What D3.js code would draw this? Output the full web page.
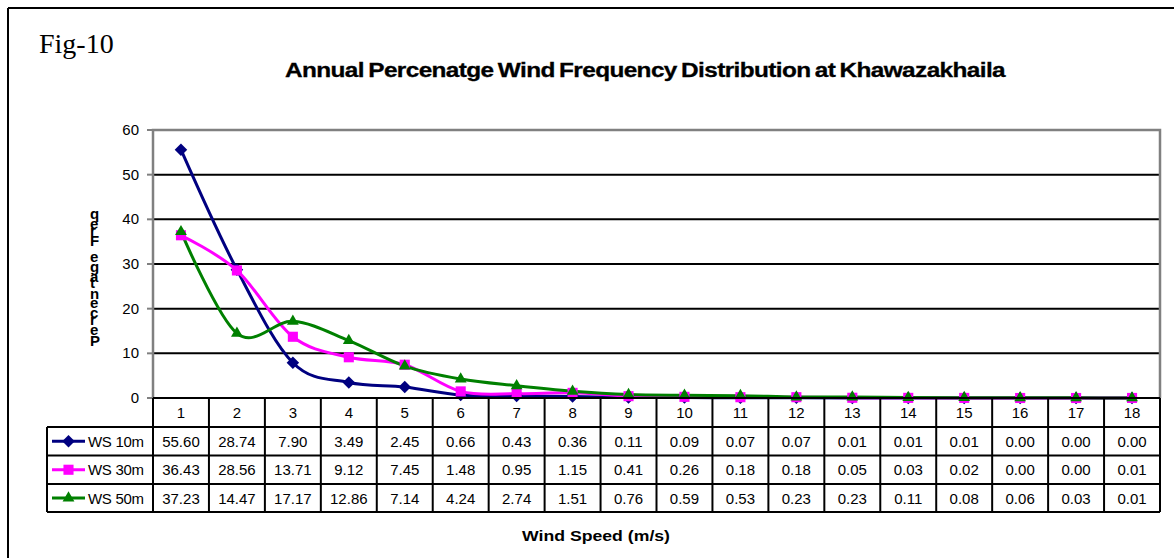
<!DOCTYPE html>
<html>
<head>
<meta charset="utf-8">
<script src="https://cdn.jsdelivr.net/npm/d3@7/dist/d3.min.js"></script>
<style>
  html, body { margin: 0; padding: 0; background: #fff; }
  svg { display: block; }
  text { font-family: "Liberation Sans", Arial, sans-serif; }
</style>
</head>
<body>
<svg id="chart" width="1174" height="558"></svg>
<script>
// Wind speed bins (m/s) and percentage frequency per measurement height
const categories = ["1","2","3","4","5","6","7","8","9","10","11","12","13","14","15","16","17","18"];
const ws10 = [55.60, 28.74, 7.90, 3.49, 2.45, 0.66, 0.43, 0.36, 0.11, 0.09, 0.07, 0.07, 0.01, 0.01, 0.01, 0.00, 0.00, 0.00];
const ws30 = [36.43, 28.56, 13.71, 9.12, 7.45, 1.48, 0.95, 1.15, 0.41, 0.26, 0.18, 0.18, 0.05, 0.03, 0.02, 0.00, 0.00, 0.01];
const ws50 = [37.23, 14.47, 17.17, 12.86, 7.14, 4.24, 2.74, 1.51, 0.76, 0.59, 0.53, 0.23, 0.23, 0.11, 0.08, 0.06, 0.03, 0.01];
const seriesNames = ["WS 10m", "WS 30m", "WS 50m"];
const yTicks = [0, 10, 20, 30, 40, 50, 60];

const series = [
  { name: seriesNames[0], values: ws10, color: "#000080", symbol: "diamond" },
  { name: seriesNames[1], values: ws30, color: "#FF00FF", symbol: "square" },
  { name: seriesNames[2], values: ws50, color: "#008000", symbol: "triangle" }
];

const svg = d3.select("#chart");

// Frame of the figure (left and top edge)
svg.append("line").attr("x1", 8).attr("y1", 8).attr("x2", 1174).attr("y2", 8)
  .attr("stroke", "#000").attr("stroke-width", 2);
svg.append("line").attr("x1", 8).attr("y1", 8).attr("x2", 8).attr("y2", 558)
  .attr("stroke", "#000").attr("stroke-width", 2);

svg.append("text").attr("x", 39).attr("y", 53)
  .style("font-family", "'Liberation Serif', 'Times New Roman', serif")
  .style("font-size", "28px").text("Fig-10");

svg.append("text").attr("x", 285).attr("y", 77)
  .attr("textLength", 720).attr("lengthAdjust", "spacingAndGlyphs")
  .style("font-size", "20px").style("font-weight", "bold")
  .style("word-spacing", "-1.5px").style("letter-spacing", "-0.5px")
  .style("stroke", "#000").style("stroke-width", "0.3px")
  .text("Annual Percenatge Wind Frequency Distribution at Khawazakhaila");

// Plot geometry
const plotLeft = 153, plotRight = 1160, plotTop = 130, plotBottom = 398;
const x = d3.scaleBand().domain(categories).range([plotLeft, plotRight]);
const y = d3.scaleLinear().domain([0, 60]).range([plotBottom, plotTop]);

// Horizontal gridlines
svg.append("g").selectAll("line").data(yTicks.filter(t => t > 0 && t < 60)).join("line")
  .attr("x1", plotLeft).attr("x2", plotRight)
  .attr("y1", d => y(d)).attr("y2", d => y(d))
  .attr("stroke", "#000").attr("stroke-width", 2);

// Plot border (gray)
svg.append("path")
  .attr("d", `M${plotLeft},${plotBottom}V${plotTop}H${plotRight}V${plotBottom}`)
  .attr("fill", "none").attr("stroke", "#808080").attr("stroke-width", 2.5);

// Y axis ticks and labels
const yAxis = svg.append("g");
yAxis.selectAll("line").data(yTicks).join("line")
  .attr("x1", plotLeft - 6).attr("x2", plotLeft)
  .attr("y1", d => y(d)).attr("y2", d => y(d))
  .attr("stroke", "#808080").attr("stroke-width", 2);
yAxis.selectAll("text").data(yTicks).join("text")
  .attr("x", plotLeft - 14).attr("y", d => y(d) + 5)
  .attr("text-anchor", "end").style("font-size", "15px")
  .text(d => d);

// Y axis title: upright glyphs stacked from bottom to top
const yTitle = "Percentage Freq";
svg.append("text")
  .attr("transform", "translate(90,346) rotate(-90)")
  .attr("x", 0).attr("y", 0)
  .attr("rotate", 90)
  .attr("textLength", 136).attr("lengthAdjust", "spacing")
  .style("font-size", "15px").style("font-weight", "bold")
  .text(yTitle);

// Smoothed series lines
const line = d3.line()
  .x((d, i) => x(categories[i]) + x.bandwidth() / 2)
  .y(d => y(d))
  .curve(d3.curveCardinal.tension(0));

const symbolPath = (s) => {
  if (s === "diamond") return d3.symbol().type(d3.symbolDiamond2).size(100)();
  if (s === "square") return d3.symbol().type(d3.symbolSquare2).size(130)();
  return d3.symbol().type(d3.symbolTriangle2).size(100)();
};

series.forEach(s => {
  svg.append("path").datum(s.values)
    .attr("d", line).attr("fill", "none")
    .attr("stroke", s.color).attr("stroke-width", 3);
});
series.forEach(s => {
  svg.append("g").selectAll("path").data(s.values).join("path")
    .attr("transform", (d, i) => `translate(${x(categories[i]) + x.bandwidth() / 2},${y(d)})`)
    .attr("d", symbolPath(s.symbol))
    .attr("fill", s.color);
});

// Data table under the axis
const rowTops = [398, 427, 455.5, 484, 512];
const legendLeft = 47;
const tbl = svg.append("g");

// header row with category labels
tbl.selectAll("text.cat").data(categories).join("text")
  .attr("class", "cat")
  .attr("x", d => x(d) + x.bandwidth() / 2).attr("y", 418)
  .attr("text-anchor", "middle").style("font-size", "15px")
  .text(d => d);

series.forEach((s, r) => {
  const cy = (rowTops[r + 1] + rowTops[r + 2]) / 2;
  tbl.append("g").selectAll("text").data(s.values).join("text")
    .attr("x", (d, i) => x(categories[i]) + x.bandwidth() / 2).attr("y", cy + 5.5)
    .attr("text-anchor", "middle").style("font-size", "15px")
    .text(d => d.toFixed(2));
  // legend key
  tbl.append("line").attr("x1", 52).attr("x2", 85).attr("y1", cy).attr("y2", cy)
    .attr("stroke", s.color).attr("stroke-width", 3);
  tbl.append("path").attr("transform", `translate(68.5,${cy})`)
    .attr("d", symbolPath(s.symbol)).attr("fill", s.color);
  tbl.append("text").attr("x", 88).attr("y", cy + 5.5)
    .style("font-size", "15px").style("letter-spacing", "-0.3px").text(s.name);
});

// table grid
rowTops.forEach((ty, k) => {
  tbl.append("line")
    .attr("x1", k === 0 ? plotLeft : legendLeft).attr("x2", plotRight)
    .attr("y1", ty).attr("y2", ty)
    .attr("stroke", "#000").attr("stroke-width", 2);
});
const colEdges = categories.map(c => x(c)).concat([plotRight]);
tbl.selectAll("line.col").data(colEdges).join("line")
  .attr("class", "col")
  .attr("x1", d => d).attr("x2", d => d)
  .attr("y1", rowTops[0]).attr("y2", rowTops[4])
  .attr("stroke", "#000").attr("stroke-width", 2);
tbl.append("line").attr("x1", legendLeft).attr("x2", legendLeft)
  .attr("y1", rowTops[1]).attr("y2", rowTops[4])
  .attr("stroke", "#000").attr("stroke-width", 2);

// X axis title
svg.append("text").attr("x", 522).attr("y", 541)
  .attr("textLength", 148).attr("lengthAdjust", "spacingAndGlyphs")
  .style("font-size", "15px").style("font-weight", "bold")
  .text("Wind Speed (m/s)");
</script>
</body>
</html>
